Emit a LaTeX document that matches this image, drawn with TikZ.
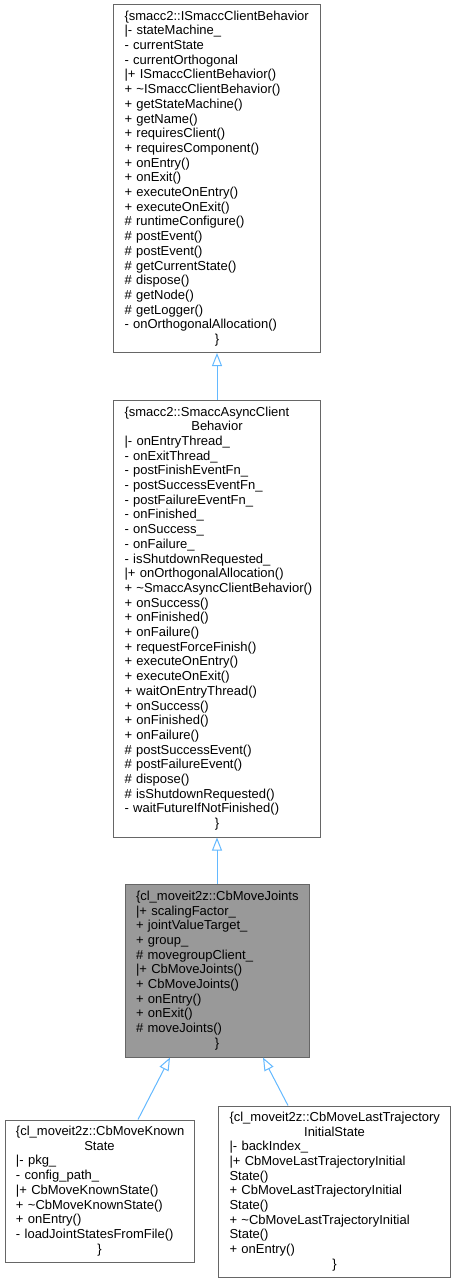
\documentclass[tikz,border=0pt]{standalone}
\usepackage{fontspec}
\setmainfont{Liberation Sans}
\usepackage{xcolor}
\usepackage{tikz}
\usetikzlibrary{arrows.meta}

\definecolor{edgeblue}{HTML}{63B8FF}
\definecolor{boxgray}{HTML}{666666}
\definecolor{nodegray}{HTML}{999999}
\newcommand{\clsfont}{\fontsize{13}{14.7}\selectfont\hyphenpenalty=10000\exhyphenpenalty=10000}
\newcommand{\centred}[1]{\makebox[\hsize]{#1}}
% let long member lines run a little past the text width instead of breaking
\newcommand{\ragfix}{\rightskip=-10pt plus 1fil\relax}

\begin{document}
\begin{tikzpicture}[x=1pt, y=-1pt,
  cls/.style={draw=boxgray, line width=1pt, fill=white, inner xsep=11pt, inner ysep=0pt, align=left, font=\clsfont},
  clsmain/.style={cls, fill=nodegray},
  inherit/.style={draw=edgeblue, line width=1pt, -{Triangle[open, length=13pt, width=10pt]}}]
  \useasboundingbox (0,0) rectangle (456,1283);
  % ---- base class
  \node[cls, text width=185pt, minimum height=348pt] (isc) at (217,178.5) {\ragfix
    \{smacc2::ISmaccClientBehavior\\
    |- stateMachine\_\\
    - currentState\\
    - currentOrthogonal\\
    |+ ISmaccClientBehavior()\\
    + \textasciitilde ISmaccClientBehavior()\\
    + getStateMachine()\\
    + getName()\\
    + requiresClient()\\
    + requiresComponent()\\
    + onEntry()\\
    + onExit()\\
    + executeOnEntry()\\
    + executeOnExit()\\
    \# runtimeConfigure()\\
    \# postEvent()\\
    \# postEvent()\\
    \# getCurrentState()\\
    \# dispose()\\
    \# getNode()\\
    \# getLogger()\\
    - onOrthogonalAllocation()\\
    \centred{\}}};
  % ---- async behavior
  \node[cls, text width=185pt, minimum height=437pt] (sacb) at (217,618.5) {\ragfix
    \{smacc2::SmaccAsyncClient\\
    \centred{Behavior}\\
    |- onEntryThread\_\\
    - onExitThread\_\\
    - postFinishEventFn\_\\
    - postSuccessEventFn\_\\
    - postFailureEventFn\_\\
    - onFinished\_\\
    - onSuccess\_\\
    - onFailure\_\\
    - isShutdownRequested\_\\
    |+ onOrthogonalAllocation()\\
    + \textasciitilde SmaccAsyncClientBehavior()\\
    + onSuccess()\\
    + onFinished()\\
    + onFailure()\\
    + requestForceFinish()\\
    + executeOnEntry()\\
    + executeOnExit()\\
    + waitOnEntryThread()\\
    + onSuccess()\\
    + onFinished()\\
    + onFailure()\\
    \# postSuccessEvent()\\
    \# postFailureEvent()\\
    \# dispose()\\
    \# isShutdownRequested()\\
    - waitFutureIfNotFinished()\\
    \centred{\}}};
  % ---- highlighted class
  \node[clsmain, text width=162pt, minimum height=173pt] (cbmj) at (217,970.5) {\ragfix
    \{cl\_moveit2z::CbMoveJoints\\
    |+ scalingFactor\_\\
    + jointValueTarget\_\\
    + group\_\\
    \# movegroupClient\_\\
    |+ CbMoveJoints()\\
    + CbMoveJoints()\\
    + onEntry()\\
    + onExit()\\
    \# moveJoints()\\
    \centred{\}}};
  % ---- derived classes
  \node[cls, text width=167pt, minimum height=142pt] (cbmks) at (99.5,1191) {\ragfix
    \{cl\_moveit2z::CbMoveKnown\\
    \centred{State}\\
    |- pkg\_\\
    - config\_path\_\\
    |+ CbMoveKnownState()\\
    + \textasciitilde CbMoveKnownState()\\
    + onEntry()\\
    - loadJointStatesFromFile()\\
    \centred{\}}};
  \node[cls, text width=210pt, minimum height=171pt] (cbmlt) at (334.5,1191.5) {\ragfix
    \{cl\_moveit2z::CbMoveLastTrajectory\\
    \centred{InitialState}\\
    |- backIndex\_\\
    |+ CbMoveLastTrajectoryInitial\\
    State()\\
    + CbMoveLastTrajectoryInitial\\
    State()\\
    + \textasciitilde CbMoveLastTrajectoryInitial\\
    State()\\
    + onEntry()\\
    \centred{\}}};
  % ---- inheritance edges
  \draw[inherit] (sacb.north) -- (isc.south);
  \draw[inherit] (cbmj.north) -- (sacb.south);
  \draw[inherit] ([xshift=38.5pt]cbmks.north) -- ([xshift=-47pt]cbmj.south);
  \draw[inherit] ([xshift=-46.5pt]cbmlt.north) -- ([xshift=46pt]cbmj.south);
\end{tikzpicture}
\end{document}
